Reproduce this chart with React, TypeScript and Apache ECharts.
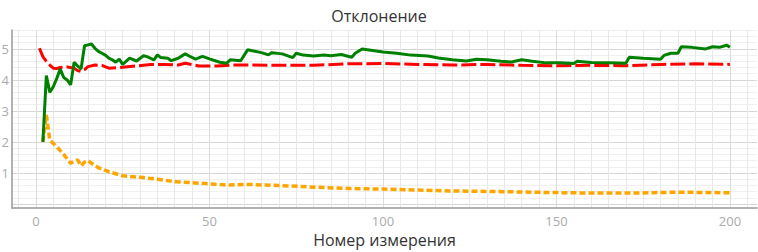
import React, { useEffect, useRef } from "react";
import * as echarts from "echarts";

const titleText = "Отклонение";
const xAxisName = "Номер измерения";

const greenX = [2, 3, 4, 5, 6, 7, 8, 9, 10, 11, 12, 13, 14, 15, 16, 17, 18, 19, 20, 21, 22, 23, 24, 25, 27, 29, 31, 32, 34, 35, 36, 38, 39, 41, 43, 44, 46, 48, 50, 53, 55, 56, 59, 61, 62, 65, 67, 68, 71, 74, 75, 77, 80, 83, 85, 88, 91, 92, 94, 97, 100, 104, 108, 113, 116, 120, 124, 127, 130, 134, 137, 140, 143, 147, 151, 155, 156, 160, 165, 170, 171, 175, 180, 181, 183, 185, 186, 189, 193, 195, 197, 199, 200];
const greenY = [2.0, 4.14, 3.6, 3.78, 4.05, 4.35, 4.08, 4.0, 3.84, 4.57, 4.45, 4.35, 5.1, 5.13, 5.16, 5.02, 4.92, 4.86, 4.8, 4.7, 4.65, 4.57, 4.67, 4.5, 4.7, 4.61, 4.78, 4.75, 4.65, 4.81, 4.72, 4.7, 4.62, 4.7, 4.84, 4.78, 4.67, 4.76, 4.68, 4.57, 4.54, 4.65, 4.62, 4.97, 4.95, 4.88, 4.81, 4.88, 4.84, 4.72, 4.86, 4.8, 4.77, 4.8, 4.78, 4.82, 4.73, 4.86, 5.0, 4.95, 4.9, 4.86, 4.8, 4.77, 4.71, 4.65, 4.61, 4.67, 4.65, 4.6, 4.58, 4.65, 4.6, 4.55, 4.55, 4.53, 4.6, 4.56, 4.55, 4.54, 4.73, 4.7, 4.67, 4.79, 4.86, 4.86, 5.07, 5.05, 5.0, 5.07, 5.05, 5.12, 5.06];

const redX = [1, 2, 3, 4, 5, 6, 7, 9, 11, 12, 13, 14, 15, 17, 19, 21, 24, 29, 33, 37, 41, 43, 47, 52, 57, 61, 70, 80, 90, 100, 110, 120, 130, 140, 150, 160, 170, 180, 190, 200];
const redY = [5.02, 4.75, 4.6, 4.48, 4.38, 4.37, 4.4, 4.42, 4.38, 4.3, 4.27, 4.33, 4.43, 4.48, 4.47, 4.38, 4.4, 4.45, 4.5, 4.5, 4.48, 4.54, 4.45, 4.45, 4.48, 4.48, 4.47, 4.47, 4.52, 4.53, 4.5, 4.48, 4.5, 4.47, 4.46, 4.47, 4.46, 4.5, 4.52, 4.5];

const orangeX = [2, 3, 4, 5, 6, 7, 8, 9, 10, 11, 12, 13, 14, 15, 16, 18, 21, 25, 30, 35, 40, 47, 55, 61, 71, 81, 90, 100, 110, 119, 133, 148, 162, 172, 185, 200];
const orangeY = [2.0, 2.87, 2.06, 1.95, 1.85, 1.72, 1.6, 1.45, 1.31, 1.38, 1.42, 1.23, 1.35, 1.4, 1.31, 1.17, 1.04, 0.91, 0.86, 0.8, 0.72, 0.67, 0.61, 0.63, 0.59, 0.54, 0.5, 0.48, 0.45, 0.42, 0.4, 0.37, 0.35, 0.35, 0.38, 0.36];

const pairs = (xs: number[], ys: number[]) => xs.map((x, i) => [x, ys[i]]);

const FONT = "'Open Sans', 'Noto Sans', sans-serif";

export default function App() {
  const ref = useRef<HTMLDivElement>(null);
  useEffect(() => {
    if (!ref.current) return;
    const chart = echarts.init(ref.current, null, { renderer: "svg" });
    chart.setOption({
      animation: false,
      backgroundColor: "#ffffff",
      title: {
        text: titleText,
        left: "center",
        top: 3,
        textStyle: { fontFamily: FONT, fontSize: 16, fontWeight: "normal", color: "#333" },
      },
      grid: { left: 12, right: 1, top: 30, bottom: 44, outerBoundsMode: "none", containLabel: false },
      xAxis: {
        type: "value",
        min: -6.9,
        max: 207.8,
        minInterval: 50,
        maxInterval: 50,
        name: xAxisName,
        nameLocation: "middle",
        nameGap: 24,
        nameTextStyle: { fontFamily: FONT, fontSize: 16, color: "#333" },
        axisLine: { show: true, onZero: false, lineStyle: { color: "#999", width: 1.5 } },
        axisTick: { show: false },
        axisLabel: {
          fontFamily: FONT,
          fontSize: 13,
          color: "#aaa",
          margin: 6,
          formatter: (v: number) => (Math.abs(v % 50) < 1e-6 ? String(v) : ""),
        },
        splitLine: { show: true, showMinLine: false, showMaxLine: false, lineStyle: { color: "#dcdcdc", width: 1 } },
        minorTick: { show: false, splitNumber: 10 },
        minorSplitLine: { show: true, lineStyle: { color: "#e8e8e8", width: 1 } },
      },
      yAxis: {
        type: "value",
        min: -0.13,
        max: 5.61,
        minInterval: 1,
        maxInterval: 1,
        axisLine: { show: true, onZero: false, lineStyle: { color: "#999", width: 1.5 } },
        axisTick: { show: false },
        axisLabel: {
          fontFamily: FONT,
          fontSize: 13,
          color: "#aaa",
          margin: 3,
          formatter: (v: number) => (v > 0.5 && Math.abs(v - Math.round(v)) < 1e-6 ? String(v) : ""),
        },
        splitLine: { show: true, showMinLine: false, showMaxLine: false, lineStyle: { color: "#d6d6d6", width: 1 } },
        minorTick: { show: false, splitNumber: 5 },
        minorSplitLine: { show: true, lineStyle: { color: "#f0f0f0", width: 1 } },
      },
      series: [
        {
          type: "line",
          data: pairs(greenX, greenY),
          showSymbol: false,
          lineStyle: { color: "#008000", width: 3 },
          z: 3,
        },
        {
          type: "line",
          data: pairs(redX, redY),
          showSymbol: false,
          lineStyle: { color: "#ff0000", width: 3, type: [15, 4] },
          z: 2,
        },
        {
          type: "line",
          data: pairs(orangeX, orangeY),
          showSymbol: false,
          lineStyle: { color: "#ffa500", width: 3.5, type: [6, 3] },
          z: 2,
        },
      ],
    });
    return () => chart.dispose();
  }, []);
  return (
    <div
      ref={ref}
      style={{ position: "fixed", left: 0, top: 0, width: 758, height: 252 }}
    />
  );
}
